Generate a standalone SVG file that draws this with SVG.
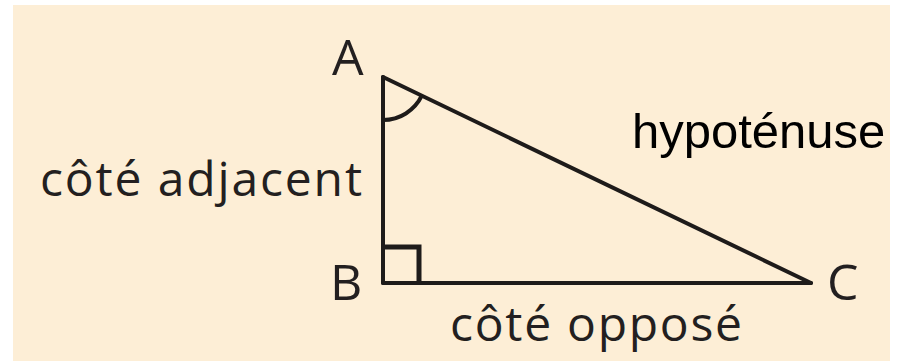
<svg xmlns="http://www.w3.org/2000/svg" width="912" height="361" viewBox="0 0 912 361">
  <style>
    .side { stroke: #1e1b1a; stroke-width: 4; fill: none; stroke-linecap: round; stroke-linejoin: miter; }
    .mark { stroke: #1e1b1a; stroke-width: 5; fill: none; }
    .arc { stroke: #1e1b1a; stroke-width: 4; fill: none; }
    .lbl { font-family: "Open Sans", "Noto Sans", sans-serif; fill: #231f20; }
    .vtx { font-size: 50px; }
    .side-lbl { font-family: "Open Sans", "Noto Sans", sans-serif; font-size: 48px; }
    .hyp { font-family: "Liberation Sans", Arial, sans-serif; font-size: 49px; fill: #000000; }
  </style>
  <rect x="0" y="0" width="912" height="361" fill="#ffffff"/>
  <rect id="background" x="13" y="5" width="877" height="356" fill="#fdeed6"/>

  <g id="connectors">
    <line id="side-AB" class="side" x1="383" y1="77" x2="383" y2="283"/>
    <line id="side-BC" class="side" x1="383" y1="283" x2="811" y2="283"/>
    <line id="side-AC" class="side" x1="383" y1="77" x2="811" y2="283"/>
  </g>

  <g id="node-A">
    <path class="arc" d="M 383 120 A 43 43 0 0 0 421.8 95.7"/>
    <text class="lbl vtx" x="332" y="75">A</text>
  </g>
  <g id="node-B">
    <path class="mark" d="M 383 247 H 419 V 283"/>
    <text class="lbl vtx" x="330" y="300">B</text>
  </g>
  <g id="node-C">
    <text class="lbl vtx" x="827" y="300">C</text>
  </g>

  <g id="label-adjacent">
    <text class="lbl side-lbl" x="40" y="196" textLength="322" lengthAdjust="spacing">côté adjacent</text>
  </g>
  <g id="label-oppose">
    <text class="lbl side-lbl" x="450" y="341" textLength="292" lengthAdjust="spacing">côté opposé</text>
  </g>
  <g id="label-hypotenuse">
    <text class="hyp" x="632" y="148">hypoténuse</text>
  </g>
</svg>
